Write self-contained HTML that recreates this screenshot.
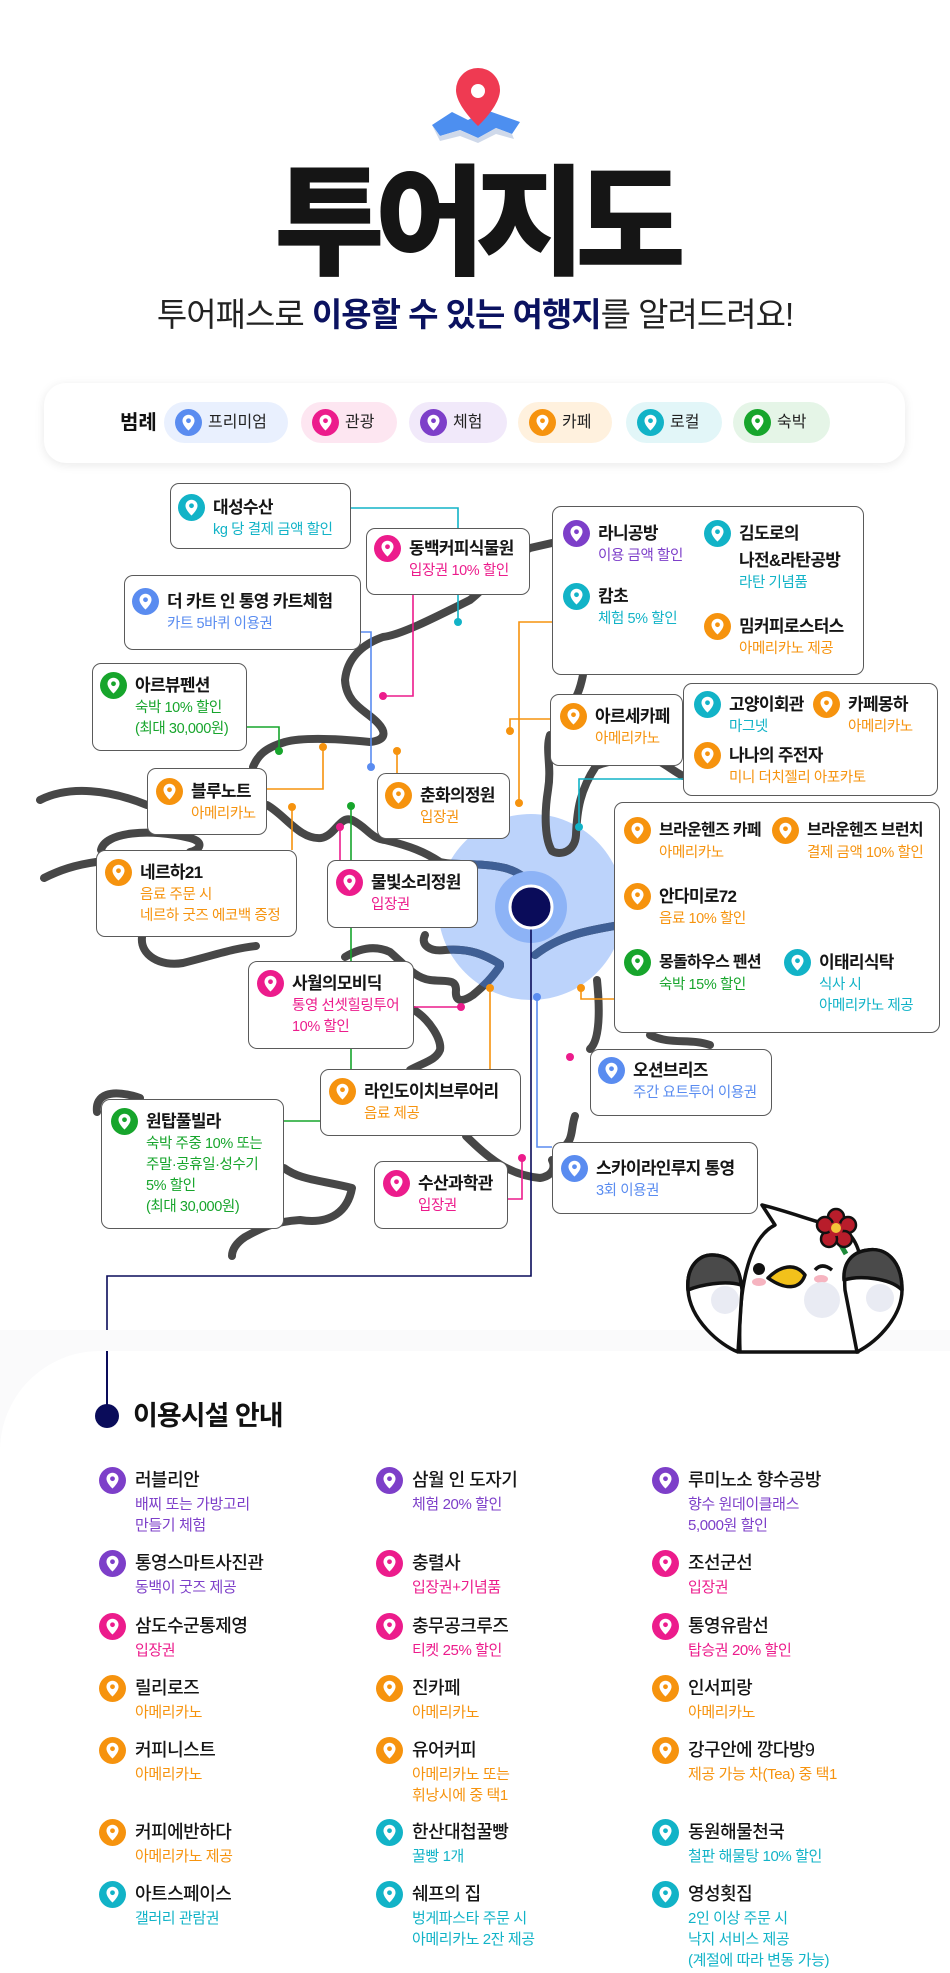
<!DOCTYPE html>
<html><head><meta charset="utf-8">
<style>
*{margin:0;padding:0;box-sizing:border-box}
body{width:950px;height:1973px;position:relative;background:#fff;font-family:"Liberation Sans","Noto Sans CJK KR",sans-serif;overflow:hidden;color:#111}
.a{position:absolute}
.bx{position:absolute;background:#fff;border:1.4px solid #5a5a5a;border-radius:9px}
.it{position:absolute;width:10px;height:10px}
.i{position:absolute;left:0;top:0;width:27px;height:27px}
.it b{position:absolute;left:35px;top:0;line-height:27px;font-size:17px;font-weight:700;color:#151515;white-space:nowrap;letter-spacing:-0.7px}
.it s{position:absolute;left:35px;top:26px;text-decoration:none;font-size:14.5px;line-height:21px;white-space:nowrap;letter-spacing:-0.4px}
.li b{font-weight:500;font-size:18px;left:36px;letter-spacing:-0.5px}
.li s{left:36px;top:27px;font-size:15px}
.pill{position:absolute;top:402px;height:41px;border-radius:21px;font-size:16px;line-height:41px;color:#222}
.pill svg{position:absolute;left:11px;top:7px;width:27px;height:27px}
.pill span{position:absolute;left:44px}
</style></head><body>
<svg style="display:none"><symbol id="p" viewBox="0 0 26 26"><circle cx="13" cy="13" r="13" fill="currentColor"/><path d="M13 5.5a5.8 5.8 0 0 0-5.8 5.8c0 4.2 5.8 9.4 5.8 9.4s5.8-5.2 5.8-9.4A5.8 5.8 0 0 0 13 5.5z" fill="#fff"/><circle cx="13" cy="11.3" r="2.3" fill="currentColor"/></symbol></svg>

<!-- header pin -->
<svg class="a" style="left:425px;top:60px" width="100" height="90" viewBox="425 60 100 90">
<path d="M432,125 L452,112 L468,120 L486,110 L520,122 L512,134 L496,128 L478,138 L460,130 L440,136 Z" fill="#4d8ff0"/>
<path d="M432,125 L440,136 L460,130 L478,138 L496,128 L512,134 L514,139 L496,134 L478,143 L460,136 L440,141 Z" fill="#cfd9ea"/>
<path d="M478,68 a22,22 0 0 0 -22,22 c0,16 22,36 22,36 s22,-20 22,-36 a22,22 0 0 0 -22,-22z" fill="#ef3a52"/>
<circle cx="478" cy="91" r="7" fill="#fff"/>
</svg>
<div class="a" style="left:0;width:950px;top:150px;text-align:center;font-size:120px;font-weight:900;line-height:126px;letter-spacing:-10px;color:#151515;font-family:'Noto Sans CJK KR',sans-serif">투어지도</div>
<div class="a" style="left:0;width:950px;top:293px;text-align:center;font-size:33px;line-height:44px;color:#222;letter-spacing:-1px">투어패스로 <b style="color:#0b1260">이용할 수 있는 여행지</b>를 알려드려요!</div>

<!-- legend -->
<div class="a" style="left:44px;top:383px;width:861px;height:80px;border-radius:22px;background:#fff;box-shadow:0 2px 10px rgba(0,0,0,0.09)"></div>
<div class="a" style="left:120px;top:410px;font-size:20px;font-weight:700;line-height:26px">범례</div>
<div class="pill" style="left:164px;width:124px;background:#e9f0fe"><svg style="color:#5a8cf0"><use href="#p"/></svg><span>프리미엄</span></div>
<div class="pill" style="left:301px;width:96px;background:#fde6f1"><svg style="color:#ec1c8c"><use href="#p"/></svg><span>관광</span></div>
<div class="pill" style="left:409px;width:98px;background:#f1e9fa"><svg style="color:#7d3fc9"><use href="#p"/></svg><span>체험</span></div>
<div class="pill" style="left:518px;width:94px;background:#fff1de"><svg style="color:#f6930e"><use href="#p"/></svg><span>카페</span></div>
<div class="pill" style="left:626px;width:96px;background:#e2f6f8"><svg style="color:#12b3c7"><use href="#p"/></svg><span>로컬</span></div>
<div class="pill" style="left:733px;width:97px;background:#e5f5e7"><svg style="color:#17a52c"><use href="#p"/></svg><span>숙박</span></div>

<!-- map svg -->
<svg class="a" style="left:0;top:0" width="950" height="1450" viewBox="0 0 950 1450">
<defs><clipPath id="cc"><circle cx="531" cy="907" r="93"/></clipPath></defs>
<circle cx="531" cy="907" r="93" fill="#bcd3fb"/>
<g id="coast" fill="none" stroke="#474747" stroke-width="8" stroke-linecap="round" stroke-linejoin="round">
<path d="M552,543 L530,548 C505,560 490,585 470,600 C430,620 400,635 383,637 C360,645 347,660 345,680 C346,700 360,708 370,716 C388,730 388,740 370,742 C330,738 300,738 285,742 C265,748 258,755 253,767"/>
<path d="M40,800 C70,785 110,790 147,805"/>
<path d="M44,878 C60,870 75,865 96,862"/>
<path d="M101,850 C105,832 150,828 190,838 C205,842 200,850 190,852"/>
<path d="M267,805 C285,815 300,840 321,838 C335,836 340,815 352,820 C368,828 370,838 385,840 C410,846 425,852 440,862 C455,866 480,862 505,868 C520,872 528,880 530,885"/>
<path d="M142,937 C140,955 160,967 183,963 C215,955 235,948 256,946"/>
<path d="M345,957 C360,948 375,945 390,952 C405,965 415,978 430,980 C445,982 456,978 456,990 C455,1000 460,1004 473,995 C485,985 492,978 500,966"/>
<path d="M425,935 C420,945 430,952 445,950 C470,948 485,955 500,964"/>
<path d="M414,1010 C430,1020 442,1040 440,1050 C436,1060 425,1062 410,1070"/>
<path d="M466,1136 C490,1160 510,1175 540,1178 C552,1176 556,1168 552,1160"/>
<path d="M97,1112 C95,1095 110,1088 140,1098"/>
<path d="M284,1168 C300,1180 320,1180 352,1188 C348,1210 332,1225 300,1220 C270,1222 258,1230 245,1237 C236,1243 232,1250 232,1256"/>
<path d="M597,980 C600,1010 600,1040 590,1049"/>
<path d="M575,1116 C570,1130 575,1140 560,1150"/>
<path d="M583,675 C580,690 576,700 570,705"/>
<path d="M550,735 C545,750 552,766 548,790 C544,815 545,840 552,851 C560,856 575,852 576,835 C577,810 580,790 596,766 C615,758 640,758 657,760 C668,766 675,772 683,776"/>
<path d="M535,955 C560,935 590,930 620,925"/>
<path d="M650,1035 C670,1045 690,1038 710,1045"/>
</g>
<g clip-path="url(#cc)" fill="none" stroke="#3f5f95" stroke-width="8" stroke-linecap="round">
<path d="M440,862 C455,866 480,862 505,868 C520,872 528,880 530,885"/>
<path d="M430,980 C445,982 456,978 456,990 C455,1000 460,1004 473,995 C485,985 492,978 500,966"/>
<path d="M425,935 C420,945 430,952 445,950 C470,948 485,955 500,964"/>
<path d="M535,955 C560,935 590,930 620,925"/>
</g>
<circle cx="531" cy="907" r="36" fill="#8db3f6"/>
<g fill="none" stroke-width="1.6">
<path d="M351,508 H458 V622" stroke="#12b3c7"/>
<path d="M413,595 V696 H383" stroke="#ec1c8c"/>
<path d="M361,632 H371 V767" stroke="#5a8cf0"/>
<path d="M247,727 H279 V751" stroke="#17a52c"/>
<path d="M267,789 H323 V747" stroke="#f6930e"/>
<path d="M397,751 V773" stroke="#f6930e"/>
<path d="M519,803 V622 H552" stroke="#f6930e"/>
<path d="M510,731 V719 H550" stroke="#f6930e"/>
<path d="M292,807 V850" stroke="#f6930e"/>
<path d="M351,806 V1069 M284,1121 H320" stroke="#17a52c"/>
<path d="M340,827 V860" stroke="#ec1c8c"/>
<path d="M414,1007 H461" stroke="#ec1c8c"/>
<path d="M490,988 V1069" stroke="#f6930e"/>
<path d="M537,997 V1147 H552" stroke="#5a8cf0"/>
<path d="M581,988 V999 H614" stroke="#f6930e"/>
<path d="M683,779 H579 V827" stroke="#12b3c7"/>
<path d="M508,1199 H522 V1158" stroke="#ec1c8c"/>
<path d="M531,907 V1276 H107 V1416" stroke="#0a0c5a"/>
</g>
<g>
<circle cx="458" cy="622" r="4" fill="#12b3c7"/><circle cx="383" cy="696" r="4" fill="#ec1c8c"/>
<circle cx="371" cy="767" r="4" fill="#5a8cf0"/><circle cx="279" cy="751" r="4" fill="#17a52c"/>
<circle cx="323" cy="747" r="4" fill="#f6930e"/><circle cx="397" cy="751" r="4" fill="#f6930e"/>
<circle cx="519" cy="803" r="4" fill="#f6930e"/><circle cx="510" cy="731" r="4" fill="#f6930e"/>
<circle cx="292" cy="807" r="4" fill="#f6930e"/><circle cx="351" cy="806" r="4" fill="#17a52c"/>
<circle cx="340" cy="827" r="4" fill="#ec1c8c"/><circle cx="461" cy="1007" r="4" fill="#ec1c8c"/>
<circle cx="490" cy="988" r="4" fill="#f6930e"/><circle cx="537" cy="997" r="4" fill="#5a8cf0"/>
<circle cx="581" cy="988" r="4" fill="#f6930e"/><circle cx="579" cy="827" r="4" fill="#12b3c7"/>
<circle cx="522" cy="1158" r="4" fill="#ec1c8c"/><circle cx="570" cy="1057" r="4" fill="#ec1c8c"/>
</g>
<circle cx="531" cy="907" r="21" fill="#0a0c5a" stroke="#fff" stroke-width="3"/>
</svg>

<!-- boxes -->
<div class="bx" style="left:170px;top:483px;width:181px;height:66px"></div>
<div class="bx" style="left:366px;top:528px;width:164px;height:67px"></div>
<div class="bx" style="left:124px;top:575px;width:237px;height:75px"></div>
<div class="bx" style="left:92px;top:663px;width:155px;height:88px"></div>
<div class="bx" style="left:147px;top:768px;width:120px;height:67px"></div>
<div class="bx" style="left:377px;top:773px;width:133px;height:66px"></div>
<div class="bx" style="left:96px;top:850px;width:201px;height:87px"></div>
<div class="bx" style="left:327px;top:860px;width:151px;height:68px"></div>
<div class="bx" style="left:248px;top:961px;width:166px;height:88px"></div>
<div class="bx" style="left:320px;top:1069px;width:201px;height:67px"></div>
<div class="bx" style="left:101px;top:1099px;width:183px;height:130px"></div>
<div class="bx" style="left:374px;top:1161px;width:134px;height:68px"></div>
<div class="bx" style="left:552px;top:1142px;width:206px;height:72px"></div>
<div class="bx" style="left:590px;top:1049px;width:182px;height:67px"></div>
<div class="bx" style="left:552px;top:506px;width:312px;height:169px"></div>
<div class="bx" style="left:550px;top:694px;width:133px;height:72px"></div>
<div class="bx" style="left:683px;top:683px;width:255px;height:113px"></div>
<div class="bx" style="left:614px;top:802px;width:326px;height:231px"></div>

<!-- map items -->
<div class="it" style="left:178px;top:494px;color:#12b3c7"><svg class="i"><use href="#p"/></svg><b>대성수산</b><s>kg 당 결제 금액 할인</s></div>
<div class="it" style="left:374px;top:535px;color:#ec1c8c"><svg class="i"><use href="#p"/></svg><b>동백커피식물원</b><s>입장권 10% 할인</s></div>
<div class="it" style="left:132px;top:588px;color:#5a8cf0"><svg class="i"><use href="#p"/></svg><b>더 카트 인 통영 카트체험</b><s>카트 5바퀴 이용권</s></div>
<div class="it" style="left:100px;top:672px;color:#17a52c"><svg class="i"><use href="#p"/></svg><b>아르뷰펜션</b><s>숙박 10% 할인<br>(최대 30,000원)</s></div>
<div class="it" style="left:156px;top:778px;color:#f6930e"><svg class="i"><use href="#p"/></svg><b>블루노트</b><s>아메리카노</s></div>
<div class="it" style="left:385px;top:782px;color:#f6930e"><svg class="i"><use href="#p"/></svg><b>춘화의정원</b><s>입장권</s></div>
<div class="it" style="left:105px;top:859px;color:#f6930e"><svg class="i"><use href="#p"/></svg><b>네르하21</b><s>음료 주문 시<br>네르하 굿즈 에코백 증정</s></div>
<div class="it" style="left:336px;top:869px;color:#ec1c8c"><svg class="i"><use href="#p"/></svg><b>물빛소리정원</b><s>입장권</s></div>
<div class="it" style="left:257px;top:970px;color:#ec1c8c"><svg class="i"><use href="#p"/></svg><b>사월의모비딕</b><s>통영 선셋힐링투어<br>10% 할인</s></div>
<div class="it" style="left:329px;top:1078px;color:#f6930e"><svg class="i"><use href="#p"/></svg><b>라인도이치브루어리</b><s>음료 제공</s></div>
<div class="it" style="left:111px;top:1108px;color:#17a52c"><svg class="i"><use href="#p"/></svg><b>원탑풀빌라</b><s>숙박 주중 10% 또는<br>주말·공휴일·성수기<br>5% 할인<br>(최대 30,000원)</s></div>
<div class="it" style="left:383px;top:1170px;color:#ec1c8c"><svg class="i"><use href="#p"/></svg><b>수산과학관</b><s>입장권</s></div>
<div class="it" style="left:561px;top:1155px;color:#5a8cf0"><svg class="i"><use href="#p"/></svg><b>스카이라인루지 통영</b><s>3회 이용권</s></div>
<div class="it" style="left:598px;top:1057px;color:#5a8cf0"><svg class="i"><use href="#p"/></svg><b>오션브리즈</b><s>주간 요트투어 이용권</s></div>
<div class="it" style="left:563px;top:520px;color:#7d3fc9"><svg class="i"><use href="#p"/></svg><b>라니공방</b><s>이용 금액 할인</s></div>
<div class="it" style="left:704px;top:520px;color:#12b3c7"><svg class="i"><use href="#p"/></svg><b>김도로의<br>나전&amp;라탄공방</b><s style="top:53px">라탄 기념품</s></div>
<div class="it" style="left:563px;top:583px;color:#12b3c7"><svg class="i"><use href="#p"/></svg><b>캄초</b><s>체험 5% 할인</s></div>
<div class="it" style="left:704px;top:613px;color:#f6930e"><svg class="i"><use href="#p"/></svg><b>밈커피로스터스</b><s>아메리카노 제공</s></div>
<div class="it" style="left:560px;top:703px;color:#f6930e"><svg class="i"><use href="#p"/></svg><b>아르세카페</b><s>아메리카노</s></div>
<div class="it" style="left:694px;top:691px;color:#12b3c7"><svg class="i"><use href="#p"/></svg><b>고양이회관</b><s>마그넷</s></div>
<div class="it" style="left:813px;top:691px;color:#f6930e"><svg class="i"><use href="#p"/></svg><b>카페몽하</b><s>아메리카노</s></div>
<div class="it" style="left:694px;top:742px;color:#f6930e"><svg class="i"><use href="#p"/></svg><b>나나의 주전자</b><s>미니 더치젤리 아포카토</s></div>
<div class="it" style="left:624px;top:817px;color:#f6930e"><svg class="i"><use href="#p"/></svg><b style="font-size:16px">브라운헨즈 카페</b><s>아메리카노</s></div>
<div class="it" style="left:772px;top:817px;color:#f6930e"><svg class="i"><use href="#p"/></svg><b style="font-size:16px">브라운헨즈 브런치</b><s>결제 금액 10% 할인</s></div>
<div class="it" style="left:624px;top:883px;color:#f6930e"><svg class="i"><use href="#p"/></svg><b>안다미로72</b><s>음료 10% 할인</s></div>
<div class="it" style="left:624px;top:949px;color:#17a52c"><svg class="i"><use href="#p"/></svg><b style="font-size:16px">몽돌하우스 펜션</b><s>숙박 15% 할인</s></div>
<div class="it" style="left:784px;top:949px;color:#12b3c7"><svg class="i"><use href="#p"/></svg><b>이태리식탁</b><s>식사 시<br>아메리카노 제공</s></div>

<!-- bottom panel -->
<div class="a" style="left:0;top:1330px;width:950px;height:140px;background:#fafafb"></div>
<div class="a" style="left:0;top:1351px;width:950px;height:622px;background:#fff;border-top-left-radius:100px"></div>
<div class="a" style="left:106px;top:1351px;width:1.6px;height:65px;background:#0a0c5a"></div>

<!-- mascot -->
<svg class="a" style="left:670px;top:1180px" width="280" height="175" viewBox="670 1180 280 175">
<g stroke="#111" stroke-width="3.5" stroke-linejoin="round" stroke-linecap="round">
<path d="M740,1352 C738,1300 745,1240 775,1225 L762,1205 C790,1212 815,1222 840,1228 C870,1240 865,1300 858,1352 Z" fill="#fff"/>
<path d="M738,1352 C720,1345 690,1320 688,1290 C686,1265 700,1255 712,1255 C728,1255 740,1265 742,1290 Z" fill="#fff"/>
<path d="M688,1290 C686,1265 700,1255 712,1255 C728,1255 740,1265 741,1285 C725,1280 700,1285 688,1290 Z" fill="#4a4a4a"/>
<path d="M857,1352 C880,1340 902,1315 902,1290 C902,1260 885,1247 868,1250 C850,1252 843,1265 845,1290 Z" fill="#fff"/>
<path d="M902,1290 C902,1260 885,1247 868,1250 C850,1252 843,1265 844,1280 C860,1275 890,1278 902,1290 Z" fill="#4a4a4a"/>
<path d="M768,1278 C780,1266 795,1262 805,1275 C800,1290 785,1290 768,1278 Z" fill="#f2c11b"/>
</g>
<circle cx="759" cy="1269" r="6" fill="#111"/>
<path d="M815,1270 Q822,1262 832,1270" stroke="#111" stroke-width="3.5" fill="none"/>
<ellipse cx="759" cy="1282" rx="7" ry="4" fill="#f6b4c0"/><ellipse cx="821" cy="1279" rx="7" ry="4" fill="#f6b4c0"/>
<circle cx="822" cy="1300" r="18" fill="#e9ebf3"/><circle cx="725" cy="1300" r="14" fill="#e9ebf3"/><circle cx="880" cy="1298" r="14" fill="#e9ebf3"/>
<path d="M838,1240 L846,1254" stroke="#1e8a3a" stroke-width="5"/>
<g fill="#b81d2b" stroke="#111" stroke-width="2.5">
<circle cx="836" cy="1217" r="8"/><circle cx="848" cy="1225" r="8"/><circle cx="844" cy="1239" r="8"/><circle cx="829" cy="1239" r="8"/><circle cx="825" cy="1225" r="8"/>
</g>
<circle cx="836" cy="1229" r="7" fill="#b81d2b"/><circle cx="836" cy="1228" r="5" fill="#f3c43a"/>
</svg>

<!-- section header -->
<div class="a" style="left:95px;top:1404px;width:24px;height:24px;border-radius:50%;background:#0a0c5a"></div>
<div class="a" style="left:133px;top:1399px;font-size:27px;font-weight:700;line-height:34px;color:#111;letter-spacing:-1px">이용시설 안내</div>

<!-- list -->
<div class="it li" style="left:99px;top:1467px;color:#7d3fc9"><svg class="i"><use href="#p"/></svg><b>러블리안</b><s>배찌 또는 가방고리<br>만들기 체험</s></div>
<div class="it li" style="left:376px;top:1467px;color:#7d3fc9"><svg class="i"><use href="#p"/></svg><b>삼월 인 도자기</b><s>체험 20% 할인</s></div>
<div class="it li" style="left:652px;top:1467px;color:#7d3fc9"><svg class="i"><use href="#p"/></svg><b>루미노소 향수공방</b><s>향수 원데이클래스<br>5,000원 할인</s></div>
<div class="it li" style="left:99px;top:1550px;color:#7d3fc9"><svg class="i"><use href="#p"/></svg><b>통영스마트사진관</b><s>동백이 굿즈 제공</s></div>
<div class="it li" style="left:376px;top:1550px;color:#ec1c8c"><svg class="i"><use href="#p"/></svg><b>충렬사</b><s>입장권+기념품</s></div>
<div class="it li" style="left:652px;top:1550px;color:#ec1c8c"><svg class="i"><use href="#p"/></svg><b>조선군선</b><s>입장권</s></div>
<div class="it li" style="left:99px;top:1613px;color:#ec1c8c"><svg class="i"><use href="#p"/></svg><b>삼도수군통제영</b><s>입장권</s></div>
<div class="it li" style="left:376px;top:1613px;color:#ec1c8c"><svg class="i"><use href="#p"/></svg><b>충무공크루즈</b><s>티켓 25% 할인</s></div>
<div class="it li" style="left:652px;top:1613px;color:#ec1c8c"><svg class="i"><use href="#p"/></svg><b>통영유람선</b><s>탑승권 20% 할인</s></div>
<div class="it li" style="left:99px;top:1675px;color:#f6930e"><svg class="i"><use href="#p"/></svg><b>릴리로즈</b><s>아메리카노</s></div>
<div class="it li" style="left:376px;top:1675px;color:#f6930e"><svg class="i"><use href="#p"/></svg><b>진카페</b><s>아메리카노</s></div>
<div class="it li" style="left:652px;top:1675px;color:#f6930e"><svg class="i"><use href="#p"/></svg><b>인서피랑</b><s>아메리카노</s></div>
<div class="it li" style="left:99px;top:1737px;color:#f6930e"><svg class="i"><use href="#p"/></svg><b>커피니스트</b><s>아메리카노</s></div>
<div class="it li" style="left:376px;top:1737px;color:#f6930e"><svg class="i"><use href="#p"/></svg><b>유어커피</b><s>아메리카노 또는<br>휘낭시에 중 택1</s></div>
<div class="it li" style="left:652px;top:1737px;color:#f6930e"><svg class="i"><use href="#p"/></svg><b>강구안에 깡다방9</b><s>제공 가능 차(Tea) 중 택1</s></div>
<div class="it li" style="left:99px;top:1819px;color:#f6930e"><svg class="i"><use href="#p"/></svg><b>커피에반하다</b><s>아메리카노 제공</s></div>
<div class="it li" style="left:376px;top:1819px;color:#12b3c7"><svg class="i"><use href="#p"/></svg><b>한산대첩꿀빵</b><s>꿀빵 1개</s></div>
<div class="it li" style="left:652px;top:1819px;color:#12b3c7"><svg class="i"><use href="#p"/></svg><b>동원해물천국</b><s>철판 해물탕 10% 할인</s></div>
<div class="it li" style="left:99px;top:1881px;color:#12b3c7"><svg class="i"><use href="#p"/></svg><b>아트스페이스</b><s>갤러리 관람권</s></div>
<div class="it li" style="left:376px;top:1881px;color:#12b3c7"><svg class="i"><use href="#p"/></svg><b>쉐프의 집</b><s>벙게파스타 주문 시<br>아메리카노 2잔 제공</s></div>
<div class="it li" style="left:652px;top:1881px;color:#12b3c7"><svg class="i"><use href="#p"/></svg><b>영성횟집</b><s>2인 이상 주문 시<br>낙지 서비스 제공<br>(계절에 따라 변동 가능)</s></div>
</body></html>
